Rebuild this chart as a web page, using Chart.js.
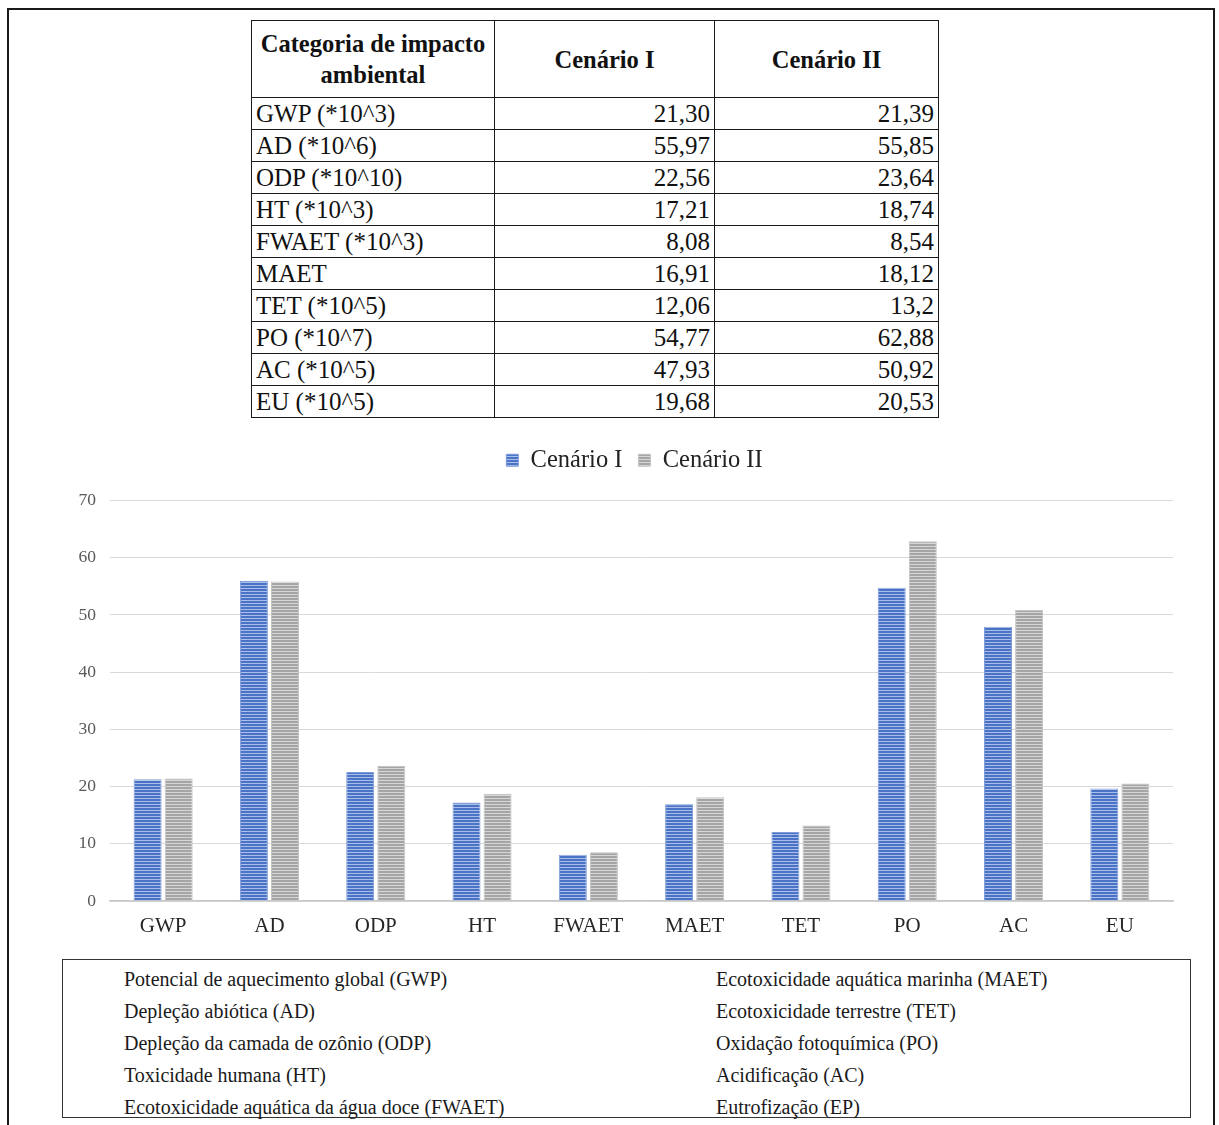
<!DOCTYPE html>
<html>
<head>
<meta charset="utf-8">
<script src="https://cdn.jsdelivr.net/npm/chart.js@4.4.1/dist/chart.umd.min.js"></script>
<style>
  body { margin: 0; background: #fff; font-family: "Liberation Serif", "Times New Roman", serif; }
  #page { position: relative; width: 1219px; height: 1125px; overflow: hidden; }
  #frame { position: absolute; left: 7px; top: 8px; width: 1208px; height: 1140px; border: 2px solid #1a1a1a; box-sizing: border-box; }
  #tbl { position: absolute; left: 251px; top: 20px; border-collapse: collapse; color: #111; }
  #tbl td, #tbl th { border: 1.5px solid #1a1a1a; padding: 0 4px; font-size: 25px; line-height: 28px; }
  #tbl tbody tr { height: 32px; }
  #tbl thead tr { height: 77px; }
  #tbl th { font-weight: bold; font-size: 24.5px; line-height: 31px; text-align: center; }
  #tbl td.num { text-align: right; }
  #wrap { position: absolute; left: 0; top: 430px; width: 1219px; height: 520px; }
  #notes { position: absolute; left: 62px; top: 959px; width: 1129px; height: 159px; border: 1.5px solid #333; box-sizing: border-box; color: #1a1a1a; font-size: 20px; }
  #notes div { position: absolute; white-space: nowrap; line-height: 32px; }
</style>
</head>
<body>
<div id="page">
  <div id="frame"></div>
  <table id="tbl">
    <thead>
      <tr>
        <th style="width:234px">Categoria de impacto<br>ambiental</th>
        <th style="width:211px">Cenário I</th>
        <th style="width:215px">Cenário II</th>
      </tr>
    </thead>
    <tbody id="tbody"></tbody>
  </table>
  <div id="wrap"><canvas id="chart"></canvas></div>
  <div id="notes"></div>
</div>
<script>
// categories on the x axis and the table row labels
var categories = ['GWP', 'AD', 'ODP', 'HT', 'FWAET', 'MAET', 'TET', 'PO', 'AC', 'EU'];
var rowLabels = ['GWP (*10^3)', 'AD (*10^6)', 'ODP (*10^10)', 'HT (*10^3)', 'FWAET (*10^3)',
                 'MAET', 'TET (*10^5)', 'PO (*10^7)', 'AC (*10^5)', 'EU (*10^5)'];
var cenario1 = [21.30, 55.97, 22.56, 17.21, 8.08, 16.91, 12.06, 54.77, 47.93, 19.68];
var cenario2 = [21.39, 55.85, 23.64, 18.74, 8.54, 18.12, 13.2, 62.88, 50.92, 20.53];
var yTicks = [0, 10, 20, 30, 40, 50, 60, 70];

var notesLeft = ['Potencial de aquecimento global (GWP)', 'Depleção abiótica (AD)',
                 'Depleção da camada de ozônio (ODP)', 'Toxicidade humana (HT)',
                 'Ecotoxicidade aquática da água doce (FWAET)'];
var notesRight = ['Ecotoxicidade aquática marinha (MAET)', 'Ecotoxicidade terrestre (TET)',
                  'Oxidação fotoquímica (PO)', 'Acidificação (AC)', 'Eutrofização (EP)'];

// table cells: comma decimals, trailing zero kept as written
var fmt = function(v){
    var s = String(v);
    if (s.indexOf('.') >= 0 && s.split('.')[1].length == 1 && v != 13.2) s += '0';
    return s.replace('.', ',');
};

var tbody = document.getElementById('tbody');
for (var i = 0; i < rowLabels.length; i++) {
    var tr = document.createElement('tr');
    var v1 = i == 0 ? '21,30' : fmt(cenario1[i]);
    tr.innerHTML = '<td>' + rowLabels[i] + '</td><td class="num">' + v1 +
                   '</td><td class="num">' + fmt(cenario2[i]) + '</td>';
    tbody.appendChild(tr);
}

var notes = document.getElementById('notes');
for (var j = 0; j < notesLeft.length; j++) {
    var a = document.createElement('div');
    a.style.left = '61px'; a.style.top = (3 + j * 32) + 'px';
    a.textContent = notesLeft[j];
    notes.appendChild(a);
    var b = document.createElement('div');
    b.style.left = '653px'; b.style.top = (3 + j * 32) + 'px';
    b.textContent = notesRight[j];
    notes.appendChild(b);
}

// horizontal striped fill for the bars
var stripes = function(dark, light){
    var c = document.createElement('canvas');
    c.width = 4; c.height = 3;
    var g = c.getContext('2d');
    g.fillStyle = dark; g.fillRect(0, 0, 4, 2);
    g.fillStyle = light; g.fillRect(0, 2, 4, 1);
    return g.createPattern(c, 'repeat');
};

// extra space under the legend, and legend centred over the plot area
var legendGap = {
    id: 'legendGap',
    beforeInit: function(chart){
        var fit = chart.legend.fit;
        chart.legend.fit = function(){
            fit.bind(chart.legend)();
            this.height += 18;
        };
    },
    afterLayout: function(chart){
        chart.legend.left += 48;
        chart.legend.right += 48;
    }
};

var ctx = document.getElementById('chart').getContext('2d');
var chartObj = new Chart(ctx, {
    type: 'bar',
    data: {
        labels: categories,
        datasets: [
            { label: 'Cenário I', data: cenario1, backgroundColor: stripes('#4a73c6', '#a9bfea'),
              borderColor: '#7f9bd8', borderWidth: 1 },
            { label: 'Cenário II', data: cenario2, backgroundColor: stripes('#a5a5a5', '#d6d6d6'),
              borderColor: '#c4c4c4', borderWidth: 1 }
        ]
    },
    plugins: [legendGap],
    options: {
        responsive: true,
        maintainAspectRatio: false,
        animation: false,
        layout: { padding: { left: 0, right: 46, top: 2, bottom: 0 } },
        datasets: { bar: { categoryPercentage: 0.585, barPercentage: 0.9 } },
        plugins: {
            tooltip: { enabled: false },
            legend: {
                position: 'top',
                labels: {
                    font: { family: 'Liberation Serif', size: 24.5 },
                    color: '#222',
                    boxWidth: 12, boxHeight: 12, padding: 16
                }
            }
        },
        scales: {
            x: {
                grid: { display: false, drawTicks: false },
                border: { color: '#c8c8c8', width: 1.5 },
                ticks: { font: { family: 'Liberation Serif', size: 21 }, color: '#262626', padding: 13 },
                afterFit: function(scale){ scale.height = 49; }
            },
            y: {
                min: 0, max: 70,
                afterBuildTicks: function(scale){
                    scale.ticks = yTicks.map(function(v){ return { value: v }; });
                },
                grid: { color: '#d9d9d9', drawTicks: false },
                border: { display: false },
                ticks: { font: { family: 'Liberation Serif', size: 17.5 }, color: '#595959', padding: 14 },
                afterFit: function(scale){ scale.width = 110; }
            }
        }
    }
});
</script>
</body>
</html>
